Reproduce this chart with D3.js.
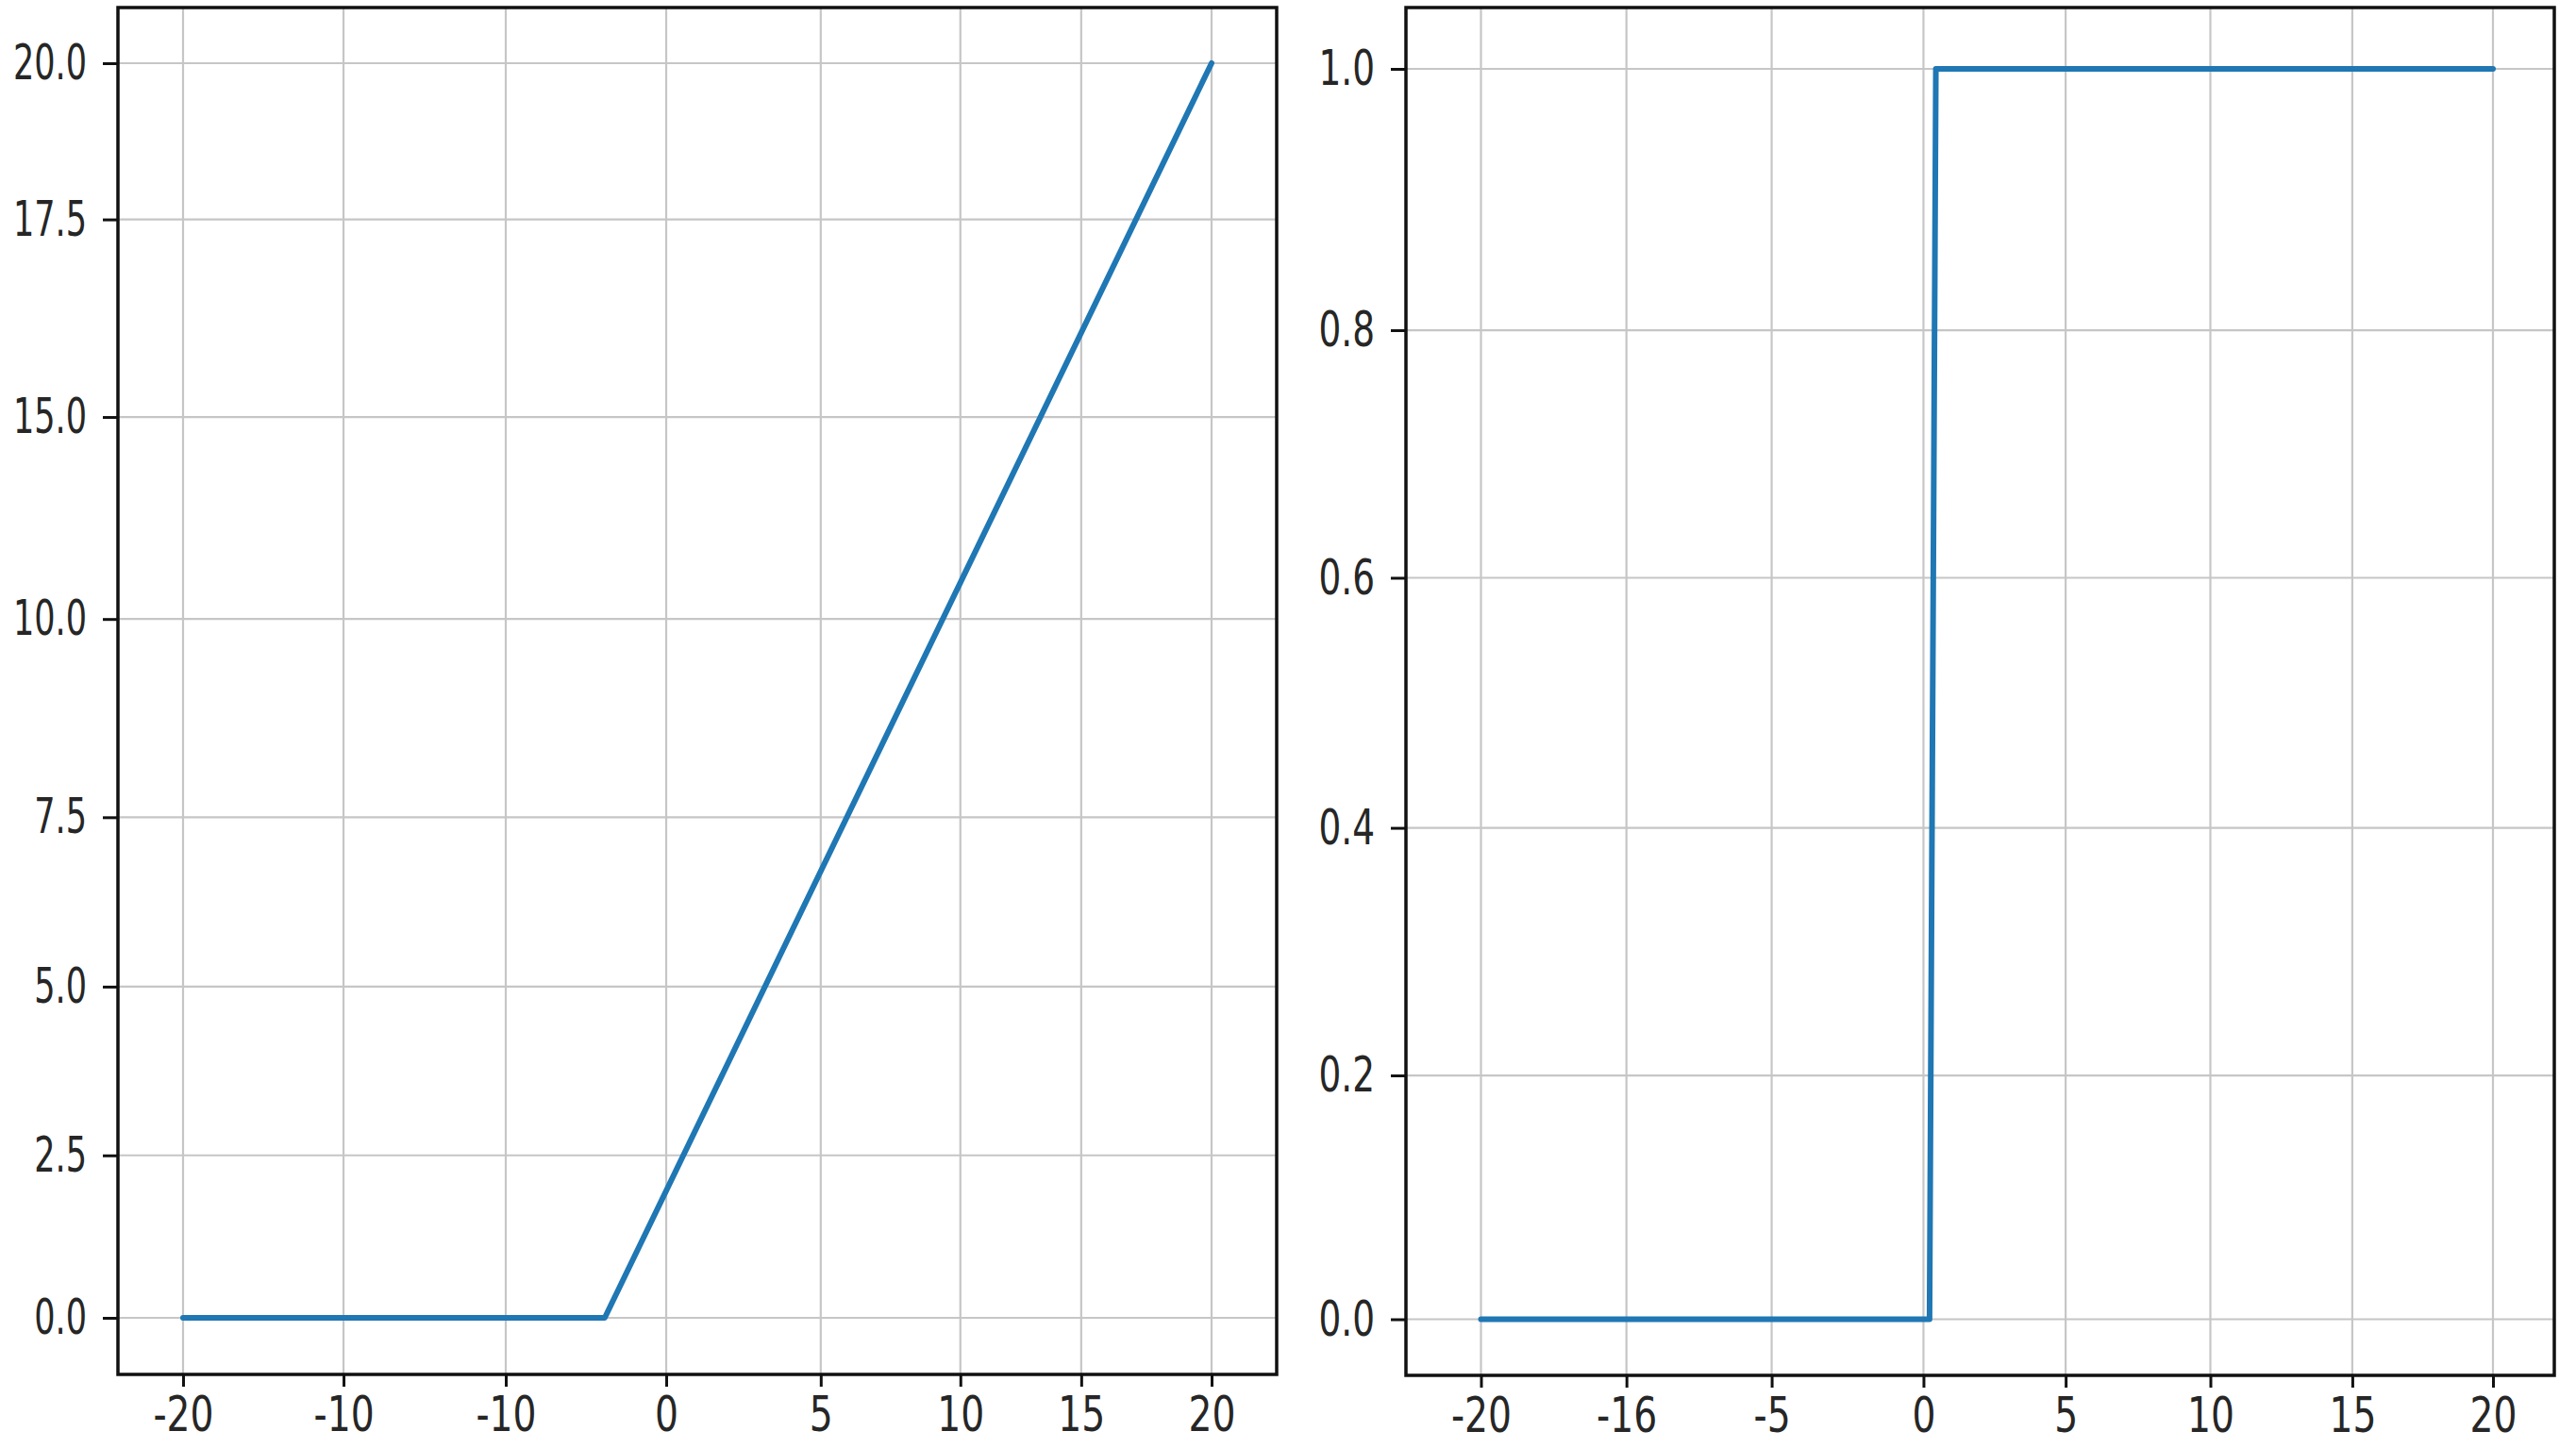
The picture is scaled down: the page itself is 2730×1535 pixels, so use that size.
<!DOCTYPE html>
<html>
<head>
<meta charset="utf-8">
<script src="https://cdn.jsdelivr.net/npm/d3@7"></script>
<style>
  html, body { margin: 0; padding: 0; background: #ffffff; }
  svg { display: block; }
  .tick-label { font-family: "Liberation Sans Narrow", "DejaVu Sans Condensed", "Liberation Sans", sans-serif; font-size: 52px; fill: #262626; }
</style>
</head>
<body>
<div id="chart"></div>
<script>
// --- data: left panel (ReLU-like ramp) ---
const reluX = [-20, -3.6, 20];
const reluY = [0, 0, 20];
const reluXTickAt = [-20, -13.76, -7.45, -1.21, 4.8, 10.23, 14.93, 20];
const reluXTickText = ["-20", "-10", "-10", "0", "5", "10", "15", "20"];
const reluYTickAt = [0, 2.59, 5.28, 7.98, 11.14, 14.36, 17.51, 20];
const reluYTickText = ["0.0", "2.5", "5.0", "7.5", "10.0", "15.0", "17.5", "20.0"];

// --- data: right panel (step) ---
const stepX = [-20, -2.27, -2.02, 20];
const stepY = [0, 0, 1, 1];
const stepXTickAt = [-20, -14.25, -8.51, -2.51, 3.11, 8.83, 14.44, 20];
const stepXTickText = ["-20", "-16", "-5", "0", "5", "10", "15", "20"];
const stepYTickAt = [0, 0.195, 0.393, 0.593, 0.791, 1];
const stepYTickText = ["0.0", "0.2", "0.4", "0.6", "0.8", "1.0"];

const W = 2730, H = 1535;
const svg = d3.select("#chart").append("svg")
  .attr("width", W)
  .attr("height", H);

// squeeze the labels horizontally, the reference uses a narrow face
function narrow(sel, k) {
  sel.each(function() {
    const w = this.getComputedTextLength();
    d3.select(this).attr("textLength", w * k).attr("lengthAdjust", "spacingAndGlyphs");
  });
}

function drawPanel(p) {
  // p.frame = [left, top, right, bottom], p.xr / p.yr = scale ranges
  const [fl, ft, fr, fb] = p.frame;
  const x = d3.scaleLinear().domain(p.xDomain).range(p.xr);
  const y = d3.scaleLinear().domain(p.yDomain).range(p.yr);

  const g = svg.append("g");

  // grid
  g.append("g").selectAll("line.vgrid")
    .data(p.xTickAt)
    .enter().append("line")
    .attr("x1", d => x(d)).attr("x2", d => x(d))
    .attr("y1", ft).attr("y2", fb)
    .attr("stroke", "#c6c6c6").attr("stroke-width", 2.2);
  g.append("g").selectAll("line.hgrid")
    .data(p.yTickAt)
    .enter().append("line")
    .attr("x1", fl).attr("x2", fr)
    .attr("y1", d => y(d)).attr("y2", d => y(d))
    .attr("stroke", "#c6c6c6").attr("stroke-width", 2.2);

  // the curve
  const pts = p.xs.map((v, i) => [v, p.ys[i]]);
  const line = d3.line().x(d => x(d[0])).y(d => y(d[1]));
  g.append("path")
    .datum(pts)
    .attr("d", line)
    .attr("fill", "none")
    .attr("stroke", "#1f77b4")
    .attr("stroke-width", 6)
    .attr("stroke-linejoin", "round")
    .attr("stroke-linecap", "round");

  // frame
  g.append("rect")
    .attr("x", fl).attr("y", ft)
    .attr("width", fr - fl).attr("height", fb - ft)
    .attr("fill", "none").attr("stroke", "#111").attr("stroke-width", 3.5);

  // x axis ticks + labels
  const xa = d3.axisBottom(x)
    .tickValues(p.xTickAt)
    .tickFormat((d, i) => p.xTickText[i])
    .tickSize(13)
    .tickPadding(10);
  const gx = g.append("g").attr("transform", `translate(0,${fb})`).call(xa);
  gx.select(".domain").remove();
  gx.selectAll(".tick line").attr("stroke", "#111").attr("stroke-width", 3);
  gx.selectAll(".tick text").attr("class", "tick-label").attr("font-size", null).attr("font-family", null)
    .attr("dy", "0.71em")
    .call(narrow, 0.84);

  // y axis ticks + labels
  const ya = d3.axisLeft(y)
    .tickValues(p.yTickAt)
    .tickFormat((d, i) => p.yTickText[i])
    .tickSize(16)
    .tickPadding(17);
  const gy = g.append("g").attr("transform", `translate(${fl},0)`).call(ya);
  gy.select(".domain").remove();
  gy.selectAll(".tick line").attr("stroke", "#111").attr("stroke-width", 3);
  gy.selectAll(".tick text").attr("class", "tick-label").attr("font-size", null).attr("font-family", null)
    .call(narrow, p.yNarrow);
}

drawPanel({
  frame: [125, 8, 1353, 1457],
  xDomain: [-20, 20], xr: [194, 1284],
  yDomain: [0, 20], yr: [1397, 67],
  xs: reluX, ys: reluY,
  xTickAt: reluXTickAt, xTickText: reluXTickText,
  yTickAt: reluYTickAt, yTickText: reluYTickText,
  yNarrow: 0.75
});

drawPanel({
  frame: [1490, 8, 2707, 1458],
  xDomain: [-20, 20], xr: [1569.5, 2642],
  yDomain: [0, 1], yr: [1398.5, 73],
  xs: stepX, ys: stepY,
  xTickAt: stepXTickAt, xTickText: stepXTickText,
  yTickAt: stepYTickAt, yTickText: stepYTickText,
  yNarrow: 0.8
});
</script>
</body>
</html>
